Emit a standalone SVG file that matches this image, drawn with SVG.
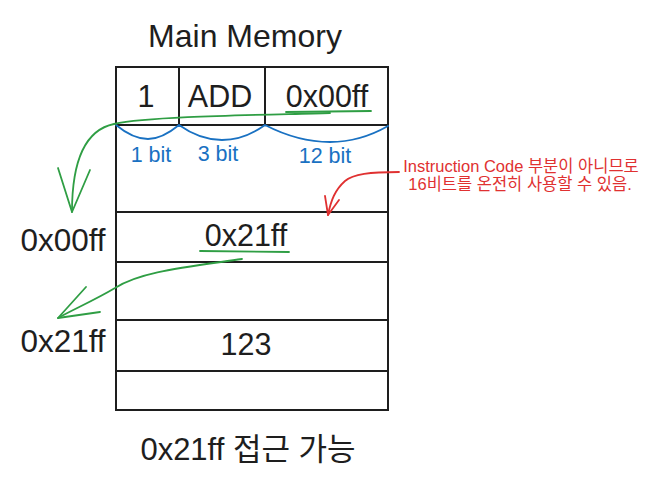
<svg xmlns="http://www.w3.org/2000/svg" width="660" height="488" viewBox="0 0 660 488">
<style>
.t{font-family:"Liberation Sans",Arial,"Noto Sans CJK KR",sans-serif;fill:#1e1e1e;text-anchor:middle}
.big{font-size:30.5px}
.bl{font-family:"Liberation Sans",Arial,sans-serif;fill:#1971c2;font-size:21.5px;text-anchor:middle}
.rd{font-family:"Liberation Sans",Arial,"Noto Sans CJK KR",sans-serif;fill:#e03131;font-size:16.5px;text-anchor:middle}
.ln{stroke:#1e1e1e;stroke-width:2;fill:none;stroke-linecap:round}
.gr{stroke:#2f9e44;stroke-width:1.8;fill:none;stroke-linecap:round;stroke-linejoin:round}
.bc{stroke:#1971c2;stroke-width:1.8;fill:none;stroke-linecap:round}
.rr{stroke:#e03131;stroke-width:1.8;fill:none;stroke-linecap:round;stroke-linejoin:round}
</style>
<rect width="660" height="488" fill="#ffffff"/>
<g id="title"><text class="t" x="245" y="47" font-size="32">Main Memory</text></g>
<g id="memory">
<rect class="ln" x="116" y="67" width="272" height="343"/>
<line class="ln" x1="179" y1="67" x2="179" y2="125"/>
<line class="ln" x1="265" y1="67" x2="265" y2="125"/>
<line class="ln" x1="116" y1="125" x2="388" y2="125"/>
<line class="ln" x1="116" y1="212" x2="388" y2="212"/>
<line class="ln" x1="116" y1="262" x2="388" y2="262"/>
<line class="ln" x1="116" y1="320" x2="388" y2="320"/>
<line class="ln" x1="116" y1="371" x2="388" y2="371"/>
<text class="t big" x="146" y="107">1</text>
<text class="t big" x="220" y="107">ADD</text>
<text class="t big" x="327" y="107">0x00ff</text>
<text class="t big" x="246" y="246">0x21ff</text>
<text class="t big" x="246" y="355">123</text>
</g>
<g id="bit-braces">
<path class="bc" d="M116,125 Q133,139 148,139 Q162,139 179,125 Q200,140 222,140 Q244,140 265,125 Q298,142 330,142 Q360,142 388,126"/>
<text class="bl" x="151" y="162">1 bit</text>
<text class="bl" x="218" y="161">3 bit</text>
<text class="bl" x="325" y="163">12 bit</text>
</g>
<g id="note">
<text class="rd" x="521" y="172">Instruction Code 부분이 아니므로</text>
<text class="rd" x="520" y="190">16비트를 온전히 사용할 수 있음.</text>
</g>
<g id="addr-labels">
<text class="t" font-size="31.5" x="63" y="251">0x00ff</text>
<text class="t" font-size="31.5" x="63" y="352">0x21ff</text>
</g>
<g id="result"><text class="t" font-size="31" x="248" y="460">0x21ff 접근 가능</text></g>
<g id="connectors">
<line class="gr" x1="286" y1="112" x2="371" y2="111"/>
<path class="gr" d="M330,113 C260,115 150,116 114,124 C85,130 72,160 72,212"/>
<path class="gr" d="M58,168 L72,212 L90,170"/>
<line class="gr" x1="200" y1="251" x2="289" y2="252"/>
<path class="gr" d="M242,259 C180,268 140,272 115,288 C95,300 72,310 58,318"/>
<path class="gr" d="M86,287 L58,318 L100,312"/>
<path class="rr" d="M399,172 C370,172 353,174 345,181 C335,190 331,200 328,215"/>
<path class="rr" d="M325,196 L328,215 L339,200"/>
</g>
</svg>
